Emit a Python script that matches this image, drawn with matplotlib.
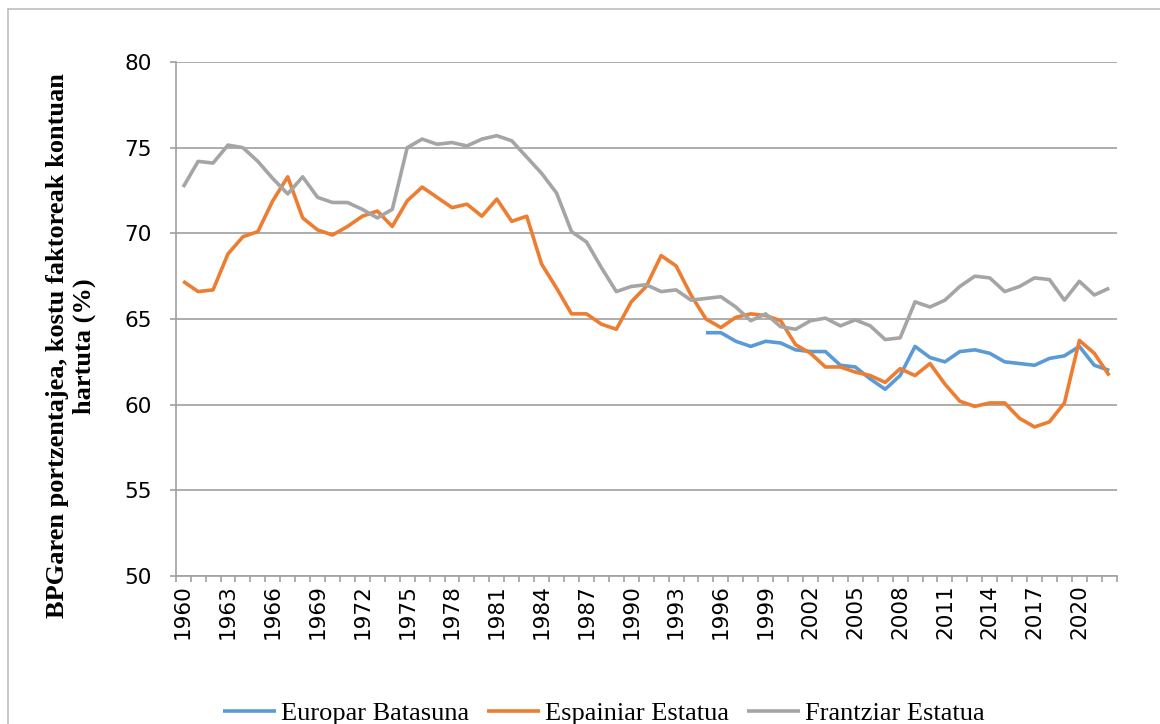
import numpy as np
import matplotlib
matplotlib.use("Agg")
import matplotlib.pyplot as plt
from matplotlib.lines import Line2D

# -----------------------
# Data
# -----------------------

years = list(range(1960, 2023))

# Europar Batasuna starts in 1995
eu_start = 1995
eu = [64.2, 64.2, 63.7, 63.4, 63.7, 63.6, 63.2, 63.1,
      63.1, 62.3, 62.2, 61.5, 60.9, 61.7, 63.4, 62.75, 62.5, 63.1,
      63.2, 63.0, 62.5, 62.4, 62.3, 62.7, 62.85, 63.4, 62.3, 62.0]

spain = [67.2, 66.6, 66.7, 68.8, 69.8, 70.1, 71.9, 73.3, 70.9, 70.2, 69.9,
         70.4, 71.0, 71.3, 70.4, 71.9, 72.7, 72.1, 71.5, 71.7, 71.0,
         72.0, 70.7, 71.0, 68.2, 66.8, 65.3, 65.3, 64.7, 64.4, 66.0,
         66.9, 68.7, 68.1, 66.4, 65.0, 64.5, 65.1, 65.3, 65.2, 64.9, 63.5,
         63.0, 62.2, 62.2, 61.9, 61.7, 61.3, 62.1, 61.7, 62.4, 61.2,
         60.2, 59.9, 60.1, 60.1, 59.2, 58.7, 59.0, 60.1, 63.75, 63.0, 61.7]

france = [72.7, 74.2, 74.1, 75.15, 75.0, 74.2, 73.2, 72.3, 73.3, 72.1, 71.8,
          71.8, 71.4, 70.9, 71.4, 75.0, 75.5, 75.2, 75.3, 75.1, 75.5,
          75.7, 75.4, 74.45, 73.5, 72.35, 70.1, 69.5, 68.0, 66.6, 66.9,
          67.0, 66.6, 66.7, 66.1, 66.2, 66.3, 65.7, 64.9, 65.3, 64.55, 64.4,
          64.9, 65.05, 64.6, 64.95, 64.6, 63.8, 63.9, 66.0, 65.7, 66.1,
          66.9, 67.5, 67.4, 66.6, 66.9, 67.4, 67.3, 66.1, 67.2, 66.4, 66.8]

labels = ["Europar Batasuna", "Espainiar Estatua", "Frantziar Estatua"]
colors = ["#5B9BD5", "#ED7D31", "#A5A5A5"]

# -----------------------
# Figure
# -----------------------

W, H = 1160, 724
fig = plt.figure(figsize=(W / 100, H / 100), dpi=100)

# outer chart frame (left and top visible)
fig.add_artist(Line2D([8 / W, 8 / W], [0, 1 - 9 / H], color="#bfbfbf", lw=1.2))
fig.add_artist(Line2D([8 / W, 1], [1 - 9 / H, 1 - 9 / H], color="#bfbfbf", lw=1.2))

left, right, top, bottom = 175.7, 1116.7, 62, 576
ax = fig.add_axes([left / W, 1 - bottom / H, (right - left) / W, (bottom - top) / H])

x = np.arange(len(years))
eu_full = np.full(len(years), np.nan)
eu_full[years.index(eu_start):] = eu

for y, lab, c in zip([eu_full, spain, france], labels, colors):
    ax.plot(x, y, color=c, lw=2.6, label=lab, solid_capstyle="butt")

ax.set_xlim(-0.5, len(years) - 0.5)
ax.set_ylim(50, 80)
ax.set_yticks(range(50, 81, 5))
ax.grid(axis="y", color="#a0a0a0", lw=1.2)
ax.set_axisbelow(True)

ax.set_xticks(x[::3])
ax.set_xticklabels([str(v) for v in years[::3]], rotation=90)
ax.set_xticks(np.arange(len(years) + 1) - 0.5, minor=True)
ax.tick_params(axis="x", which="major", length=0, pad=6, labelsize=15.5)
ax.tick_params(axis="x", which="minor", length=4, color="#a0a0a0", width=1.2)
ax.tick_params(axis="y", length=4, color="#a0a0a0", width=1.2, pad=13, labelsize=15.5)
for t in ax.get_xticklabels() + ax.get_yticklabels():
    t.set_family("DejaVu Sans")

for s in ["top", "right"]:
    ax.spines[s].set_visible(False)
for s in ["left", "bottom"]:
    ax.spines[s].set_color("#a0a0a0")
    ax.spines[s].set_linewidth(1.2)

fig.text(71 / W, 1 - 346 / H,
         "BPGaren portzentajea, kostu faktoreak kontuan\nhartuta (%)",
         rotation=90, ha="center", va="center", multialignment="center",
         family="Liberation Serif", weight="bold", fontsize=19, linespacing=1.15)

fig.legend(loc="center", bbox_to_anchor=(604 / W, 1 - 713 / H), ncol=3,
           frameon=False, prop={"family": "Liberation Serif", "size": 19},
           handlelength=2.0, handletextpad=0.2, columnspacing=0.67)

fig.savefig("out.png", dpi=100)
